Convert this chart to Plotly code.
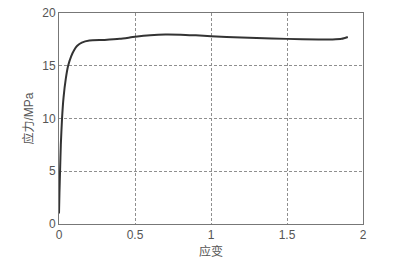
import plotly.graph_objects as go

strain = [0.0, 0.003, 0.007, 0.012, 0.02, 0.03, 0.045, 0.06, 0.08, 0.1, 0.12, 0.15,
          0.2, 0.3, 0.4, 0.5, 0.6, 0.7, 0.8, 0.9, 1.0, 1.2, 1.4, 1.6, 1.8, 1.86, 1.9]
stress = [1.0, 3.0, 5.0, 7.5, 10.0, 12.0, 13.8, 15.0, 15.9, 16.5, 16.9, 17.2,
          17.4, 17.45, 17.55, 17.75, 17.9, 17.97, 17.95, 17.88, 17.8, 17.68, 17.58, 17.52, 17.5, 17.55, 17.72]

x_ticks = [0, 0.5, 1, 1.5, 2]
x_labels = ["0", "0.5", "1", "1.5", "2"]
y_ticks = [0, 5, 10, 15, 20]
y_labels = ["0", "5", "10", "15", "20"]

font = "Liberation Sans, Arial, Noto Sans CJK SC, sans-serif"

fig = go.Figure()
fig.add_trace(go.Scatter(x=strain, y=stress, mode="lines",
                         line=dict(color="#333333", width=2, shape="spline", smoothing=0.6),
                         showlegend=False, hoverinfo="skip"))

axis_common = dict(showline=True, linecolor="#777777", linewidth=1, mirror=True,
                   showgrid=True, gridcolor="#8f8f8f", griddash="3px,2px", gridwidth=1,
                   zeroline=False, ticks="", automargin=False,
                   tickfont=dict(size=12, color="#555555", family=font))

fig.update_xaxes(range=[0, 2], tickvals=x_ticks, ticktext=x_labels, ticklabelstandoff=0,
                 title=dict(text="应变", font=dict(size=12, color="#555555", family=font), standoff=6),
                 **axis_common)
fig.update_yaxes(range=[0, 20], tickvals=y_ticks, ticktext=y_labels,
                 title=dict(text="应力/MPa", font=dict(size=12, color="#555555", family=font), standoff=6),
                 **axis_common)

fig.update_layout(width=401, height=267, margin=dict(l=59, r=38, t=13, b=43, autoexpand=False),
                  paper_bgcolor="white", plot_bgcolor="white",
                  font=dict(family=font, color="#555555"))

fig.write_html("out.html")
